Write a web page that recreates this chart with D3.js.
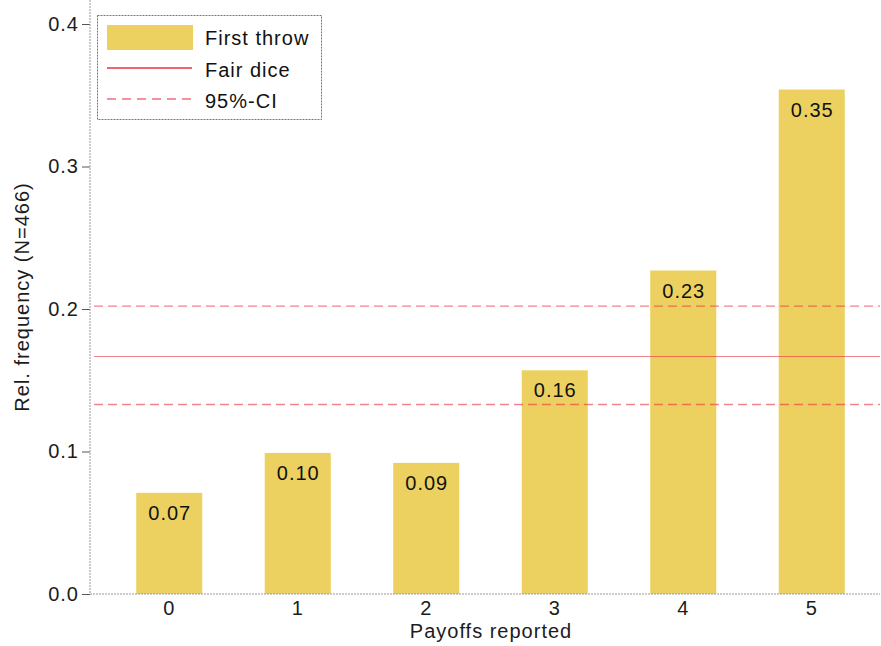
<!DOCTYPE html>
<meta charset='utf-8'>
<style>
  body{ margin:0; background:#fff; }
  text{ font-family:'Liberation Sans', Arial, sans-serif; letter-spacing:1px; }
  .tick text{ font-size:20px; fill:#1c1c1c; }
</style>
<svg width='881' height='646'></svg>
<script src="https://d3js.org/d3.v7.min.js"></script>
<script>
  // data
  var payoffs = ['0', '1', '2', '3', '4', '5'];
  var relFreq = [0.071, 0.099, 0.092, 0.157, 0.227, 0.354];
  var freqLabels = ['0.07', '0.10', '0.09', '0.16', '0.23', '0.35'];
  var fairDice = 1 / 6;
  var ciBounds = [0.133, 0.202];
  var yTicks = [0, 0.1, 0.2, 0.3, 0.4];

  var svg = d3.select('svg'),
    left = 90, right = 880, top = 10, bottom = 594;

  var x = d3.scaleBand()
    .domain(payoffs)
    .range([105, 876])
    .paddingInner(0.486)
    .paddingOuter(0.243);

  var y = d3.scaleLinear()
    .domain([0, 0.4])
    .range([bottom, 24]);

  var barColor = '#edd160',
    red = '#e8303f';

  // bars
  svg.append('g').selectAll('rect')
    .data(relFreq)
    .enter().append('rect')
    .attr('x', function(d, i) { return x(payoffs[i]); })
    .attr('y', function(d) { return y(d); })
    .attr('width', x.bandwidth())
    .attr('height', function(d) { return y(0) - y(d); })
    .attr('fill', barColor);

  svg.append('g').selectAll('text')
    .data(relFreq)
    .enter().append('text')
    .attr('x', function(d, i) { return x(payoffs[i]) + x.bandwidth() / 2 + 0.5; })
    .attr('y', function(d) { return y(d) + 27; })
    .attr('text-anchor', 'middle')
    .style('font-size', '20px')
    .style('fill', '#111')
    .text(function(d, i) { return freqLabels[i]; });

  // reference lines
  svg.append('line')
    .attr('x1', left + 4).attr('x2', right)
    .attr('y1', y(fairDice)).attr('y2', y(fairDice))
    .attr('stroke', red).attr('stroke-opacity', 0.6).attr('stroke-width', 1.2);

  svg.append('g').selectAll('line')
    .data(ciBounds)
    .enter().append('line')
    .attr('x1', left + 4).attr('x2', right)
    .attr('y1', function(d) { return y(d); })
    .attr('y2', function(d) { return y(d); })
    .attr('stroke', red).attr('stroke-opacity', 0.6).attr('stroke-width', 1.4)
    .attr('stroke-dasharray', '9,5');

  // axes
  var yAxis = svg.append('g')
    .attr('transform', 'translate(' + left + ',0)')
    .call(d3.axisLeft(y).tickValues(yTicks).tickFormat(d3.format('.1f')).tickSize(8).tickPadding(3));

  var xAxis = svg.append('g')
    .attr('transform', 'translate(0,' + bottom + ')')
    .call(d3.axisBottom(x).tickSize(0).tickPadding(7));

  yAxis.select('.domain').remove();
  xAxis.select('.domain').remove();
  svg.selectAll('.tick line').attr('stroke', '#555');

  svg.append('line')
    .attr('x1', left).attr('x2', left).attr('y1', top).attr('y2', bottom)
    .attr('stroke', '#999').attr('stroke-dasharray', '2,1');
  svg.append('line')
    .attr('x1', left).attr('x2', right).attr('y1', bottom).attr('y2', bottom)
    .attr('stroke', '#999').attr('stroke-dasharray', '2,1');

  svg.append('text')
    .attr('x', 491).attr('y', 638)
    .attr('text-anchor', 'middle')
    .style('font-size', '20px').style('fill', '#1c1c1c')
    .text('Payoffs reported');

  svg.append('text')
    .attr('transform', 'translate(29,' + 297 + ') rotate(-90)')
    .attr('text-anchor', 'middle')
    .style('font-size', '20px').style('fill', '#1c1c1c')
    .text('Rel. frequency (N=466)');

  // legend
  var legend = svg.append('g');
  legend.append('rect')
    .attr('x', 97.5).attr('y', 15.5).attr('width', 224).attr('height', 104)
    .attr('fill', '#fff').attr('stroke', '#777').attr('stroke-dasharray', '2,1');
  legend.append('rect')
    .attr('x', 107).attr('y', 25).attr('width', 86).attr('height', 25)
    .attr('fill', barColor);
  legend.append('line')
    .attr('x1', 107).attr('x2', 192).attr('y1', 68).attr('y2', 68)
    .attr('stroke', red).attr('stroke-width', 1.3);
  legend.append('line')
    .attr('x1', 107).attr('x2', 192).attr('y1', 99).attr('y2', 99)
    .attr('stroke', red).attr('stroke-opacity', 0.7).attr('stroke-width', 1.3)
    .attr('stroke-dasharray', '9,6');
  legend.selectAll('text.lab')
    .data(['First throw', 'Fair dice', '95%-CI'])
    .enter().append('text')
    .attr('class', 'lab')
    .attr('x', 205)
    .attr('y', function(d, i) { return 45 + i * 31.5; })
    .style('font-size', '20px').style('fill', '#111')
    .text(function(d) { return d; });
</script>
